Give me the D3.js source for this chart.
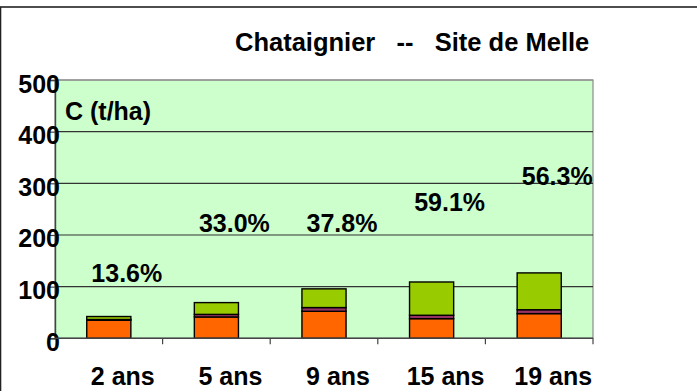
<!DOCTYPE html>
<html>
<head>
<meta charset="utf-8">
<script src="https://cdn.jsdelivr.net/npm/d3@7"></script>
<style>
  html, body { margin: 0; padding: 0; background: #fff; }
  svg { display: block; }
  text { font-family: "Liberation Sans", Arial, sans-serif; font-weight: bold; fill: #000; }
</style>
</head>
<body>
<svg id="chart" width="697" height="391"></svg>
<script>
// Carbon stock (t/ha) per stand age — chestnut, Melle site
const categories = ["2 ans", "5 ans", "9 ans", "15 ans", "19 ans"];
const orangeValues = [35.0, 41.3, 52.3, 38.0, 47.8];
const purpleValues = [1.4, 5.0, 7.2, 6.6, 7.5];
const greenValues  = [5.75, 22.8, 36.2, 64.4, 71.3];
const shareLabels  = ["13.6%", "33.0%", "37.8%", "59.1%", "56.3%"];
const shareLevels  = [109, 206, 206, 246, 297];   // where each share label sits on the C axis
const yTicks = [0, 100, 200, 300, 400, 500];
const chartTitle = "Chataignier   --   Site de Melle";
const axisTitle = "C (t/ha)";

const seriesKeys = ["orange", "purple", "green"];
const seriesColors = { orange: "#FF6600", purple: "#993366", green: "#99CC00" };

const rows = categories.map((c, i) => ({
  cat: c, orange: orangeValues[i], purple: purpleValues[i], green: greenValues[i]
}));

const svg = d3.select("#chart");
const plot = { left: 55, right: 593, top: 80, bottom: 338.3 };

const x = d3.scaleBand().domain(categories).range([plot.left, plot.right]).padding(0);
const y = d3.scaleLinear().domain([0, 500]).range([plot.bottom, plot.top]);
const barW = x.bandwidth() * 0.41;

// outer frame
svg.append("rect")
  .attr("x", 0.5).attr("y", 7).attr("width", 720).attr("height", 420)
  .attr("fill", "none").attr("stroke", "#222").attr("stroke-width", 1.6);

// plot area
svg.append("rect")
  .attr("x", plot.left).attr("y", plot.top)
  .attr("width", plot.right - plot.left).attr("height", plot.bottom - plot.top)
  .attr("fill", "#CCFFCC").attr("stroke", "#8a8a8a").attr("stroke-width", 1.2);

// horizontal gridlines
svg.append("g").selectAll("line")
  .data(yTicks.filter(t => t > 0))
  .join("line")
  .attr("x1", plot.left).attr("x2", plot.right)
  .attr("y1", d => y(d)).attr("y2", d => y(d))
  .attr("stroke", d => d === 500 ? "#8a8a8a" : "#333").attr("stroke-width", 1.2);

// stacked bars
const stack = d3.stack().keys(seriesKeys)(rows);
svg.append("g").selectAll("g")
  .data(stack)
  .join("g")
  .attr("fill", s => seriesColors[s.key])
  .selectAll("rect")
  .data(s => s)
  .join("rect")
  .attr("x", d => x(d.data.cat) + (x.bandwidth() - barW) / 2)
  .attr("width", barW)
  .attr("y", d => y(d[1]))
  .attr("height", d => y(d[0]) - y(d[1]))
  .attr("stroke", "#000").attr("stroke-width", 1.4);

// y axis
const yAxis = d3.axisLeft(y).tickValues(yTicks).tickSize(5).tickFormat(d3.format("d"));
const gy = svg.append("g").attr("transform", `translate(${plot.left},0)`).call(yAxis);
gy.select(".domain").attr("stroke", "#444").attr("stroke-width", 1.4);
gy.selectAll(".tick line").attr("stroke", "#444").attr("stroke-width", 1.2);
gy.selectAll(".tick text")
  .attr("x", 5).attr("dy", "0.48em")
  .style("font-size", "25px").style("font-family", "'Liberation Sans', Arial, sans-serif")
  .style("font-weight", "bold").attr("fill", "#000");

// x axis: ticks on category boundaries
const gx = svg.append("g");
gx.append("line")
  .attr("x1", plot.left).attr("x2", plot.right)
  .attr("y1", plot.bottom).attr("y2", plot.bottom)
  .attr("stroke", "#444").attr("stroke-width", 1.4);
gx.selectAll("line.b")
  .data(categories.slice(1).concat(["__end"]))
  .join("line").attr("class", "b")
  .attr("x1", (d, i) => i < categories.length - 1 ? x(d) : plot.right)
  .attr("x2", (d, i) => i < categories.length - 1 ? x(d) : plot.right)
  .attr("y1", plot.bottom).attr("y2", plot.bottom + 6)
  .attr("stroke", "#444").attr("stroke-width", 1.2);
gx.selectAll("text")
  .data(categories)
  .join("text")
  .attr("x", d => x(d) + x.bandwidth() / 2 + 14)
  .attr("y", 385)
  .attr("text-anchor", "middle")
  .style("font-size", "25px")
  .text(d => d);

// share labels
svg.append("g").selectAll("text")
  .data(rows)
  .join("text")
  .attr("x", d => x(d.cat) + x.bandwidth() / 2 + 18)
  .attr("y", (d, i) => y(shareLevels[i]))
  .attr("text-anchor", "middle")
  .style("font-size", "25px")
  .text((d, i) => shareLabels[i]);

// axis title inside plot
svg.append("text")
  .attr("x", 65).attr("y", 120)
  .style("font-size", "25px")
  .text(axisTitle);

// chart title (spacing around the dashes kept as typed)
svg.append("text")
  .attr("x", 235).attr("y", 51)
  .style("font-size", "25.5px")
  .style("white-space", "pre")
  .text(chartTitle);
</script>
</body>
</html>
